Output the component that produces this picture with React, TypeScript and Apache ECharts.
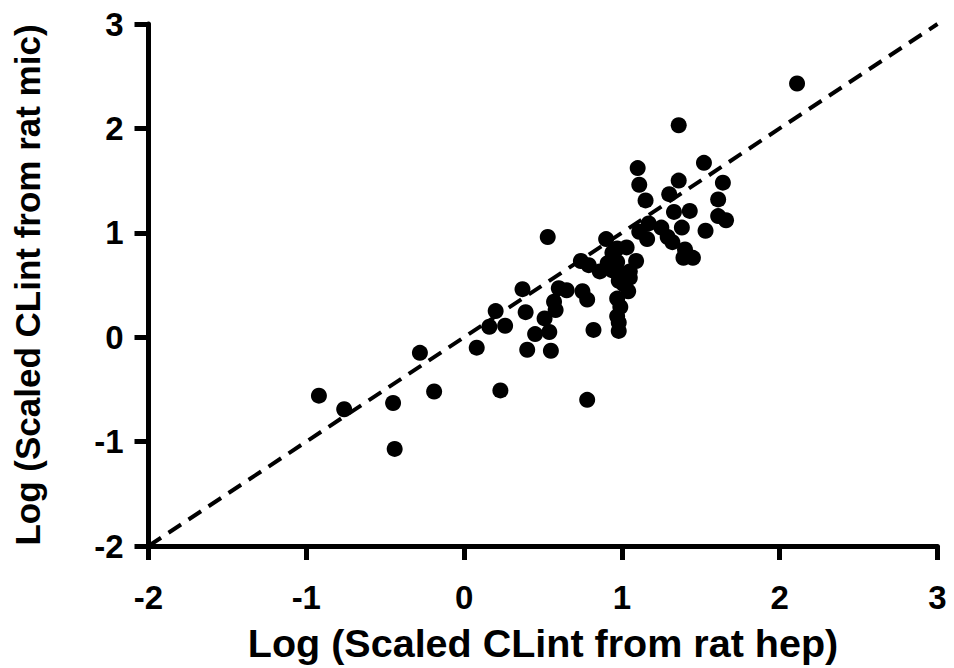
import React, { useEffect, useRef } from "react";
import * as echarts from "echarts";

const logHep: number[] = [
  -0.92, -0.76, -0.45, -0.44, -0.19, -0.28, 0.08, 0.23, 0.78, 0.16,
  0.26, 0.2, 0.39, 0.37, 0.51, 0.45, 0.54, 0.4, 0.55, 0.57,
  0.58, 0.53, 0.6, 0.65, 0.75, 0.78, 0.82, 0.74, 0.79, 0.9,
  0.91, 0.94, 0.86, 0.97, 1.03, 1.05, 0.98, 0.99, 0.97, 1.09,
  1.04, 1.01, 0.97, 0.99, 0.97, 0.98, 0.98, 1.11, 1.16, 1.17,
  1.25, 0.94, 1.1, 1.11, 1.15, 1.36, 1.52, 1.36, 1.64, 1.3,
  1.61, 1.33, 1.43, 1.61, 1.66, 1.53, 1.38, 1.29, 1.32, 1.4,
  1.39, 1.45, 1.05, 2.11,
];
const logMic: number[] = [
  -0.56, -0.69, -0.63, -1.07, -0.52, -0.15, -0.1, -0.51, -0.6, 0.1,
  0.11, 0.25, 0.24, 0.46, 0.18, 0.03, 0.05, -0.12, -0.13, 0.34,
  0.26, 0.96, 0.47, 0.45, 0.44, 0.36, 0.07, 0.73, 0.69, 0.94,
  0.71, 0.64, 0.63, 0.85, 0.86, 0.57, 0.54, 0.61, 0.72, 0.73,
  0.44, 0.51, 0.37, 0.29, 0.2, 0.14, 0.06, 1.01, 0.94, 1.09,
  1.05, 0.81, 1.62, 1.46, 1.31, 2.03, 1.67, 1.5, 1.48, 1.37,
  1.32, 1.2, 1.21, 1.16, 1.12, 1.02, 1.05, 0.96, 0.91, 0.84,
  0.76, 0.76, 0.63, 2.43,
];
const identityLine: number[][] = [
  [-2, -2],
  [3, 3],
];
const xTitle = "Log (Scaled CLint from rat hep)";
const yTitle = "Log (Scaled CLint from rat mic)";

const FONT = "'Liberation Sans', Arial, sans-serif";

export default function App() {
  const ref = useRef<HTMLDivElement>(null);
  useEffect(() => {
    if (!ref.current) return;
    const chart = echarts.init(ref.current, null, { renderer: "svg" });
    const points = logHep.map((x, i) => [x, logMic[i]]);
    const axisCommon = {
      type: "value" as const,
      min: -2,
      max: 3,
      interval: 1,
      splitLine: { show: false },
      axisLine: { show: true, onZero: false, lineStyle: { color: "#000", width: 5 } },
      axisTick: { show: true, inside: false, length: 14, lineStyle: { color: "#000", width: 5 } },
      nameLocation: "middle" as const,
    };
    const labelStyle = {
      fontFamily: FONT,
      fontWeight: "bold" as const,
      fontSize: 33,
      lineHeight: 30,
      color: "#000",
    };
    chart.setOption({
      animation: false,
      backgroundColor: "#fff",
      grid: {
        left: 148.5,
        right: 16.5,
        top: 24,
        bottom: 122,
        containLabel: false,
        outerBoundsMode: "none",
      },
      xAxis: {
        ...axisCommon,
        name: xTitle,
        nameGap: 77,
        nameTextStyle: { fontFamily: FONT, fontWeight: "bold", fontSize: 39.5, color: "#000" },
        axisLabel: { ...labelStyle, margin: 36 },
      },
      yAxis: {
        ...axisCommon,
        name: yTitle,
        nameGap: 104,
        nameTextStyle: { fontFamily: FONT, fontWeight: "bold", fontSize: 35, color: "#000" },
        axisLabel: { ...labelStyle, margin: 25 },
      },
      series: [
        {
          type: "line",
          data: identityLine,
          symbol: "none",
          z: 1,
          lineStyle: { color: "#000", width: 4, type: [15, 9] },
        },
        {
          type: "scatter",
          data: points,
          symbol: "circle",
          symbolSize: 16,
          z: 2,
          itemStyle: { color: "#000", opacity: 1 },
        },
      ],
    });
    return () => chart.dispose();
  }, []);
  return (
    <div
      ref={ref}
      style={{ position: "absolute", left: 0, top: 0, width: 954, height: 668 }}
    />
  );
}
